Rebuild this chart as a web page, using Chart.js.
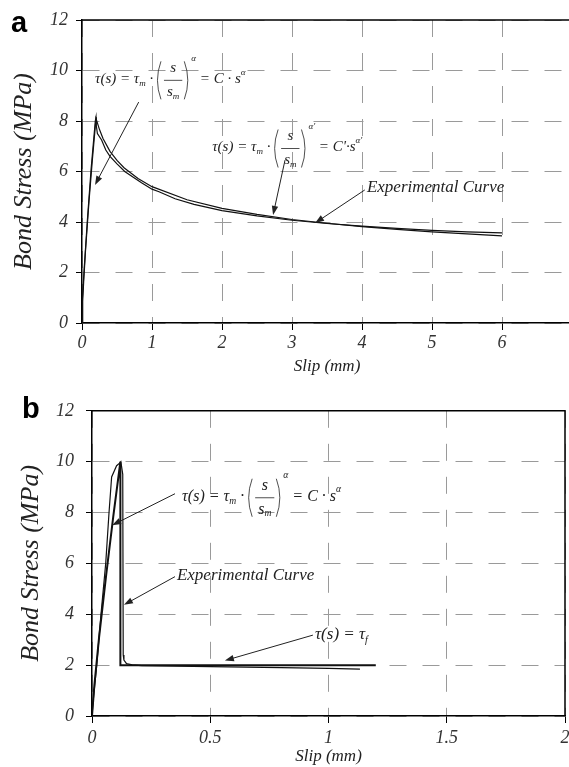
<!DOCTYPE html>
<html>
<head>
<meta charset="utf-8">
<script src="https://cdn.jsdelivr.net/npm/chart.js@4"></script>
<style>
html, body { margin: 0; padding: 0; background: #fff; overflow: hidden; width: 569px; height: 767px; }
canvas { position: absolute; left: 0; }
#chartA { top: 0; }
#chartB { top: 388px; }
.panel { position: absolute; font: bold 29px "Liberation Sans", Arial, sans-serif; color: #000; line-height: 32px; }
</style>
</head>
<body>
<canvas id="chartA" width="590" height="385"></canvas>
<canvas id="chartB" width="580" height="379"></canvas>
<div class="panel" style="left:11px; top:6px;">a</div>
<div class="panel" style="left:22px; top:392px;">b</div>
<script>
// panel a: slip (mm) / bond stress (MPa)
const expSlipA = [0, 0.004, 0.03, 0.075, 0.13, 0.19, 0.2, 0.205, 0.22, 0.28, 0.34, 0.4, 0.5, 0.61, 0.85, 1.0, 1.1, 1.33, 1.6, 2.0, 2.5, 3.0, 3.5, 4.0, 4.5, 5.0, 5.5, 6.0];
const expStressA = [0, 0.9, 2.1, 4.0, 6.1, 8.0, 8.15, 7.8, 7.5, 7.25, 6.85, 6.6, 6.3, 6.0, 5.55, 5.3, 5.2, 4.92, 4.7, 4.45, 4.24, 4.07, 3.94, 3.84, 3.75, 3.67, 3.61, 3.57];
const modelSlipA = [0, 0.01, 0.025, 0.05, 0.1, 0.15, 0.2, 0.25, 0.3, 0.4, 0.5, 0.6, 0.8, 1.0, 1.5, 2.0, 2.5, 3.0, 3.5, 4.0, 4.5, 5.0, 5.5, 6.0];
const modelStressA = [0, 0.86, 1.7, 2.86, 4.82, 6.53, 8.1, 7.66, 7.31, 6.8, 6.44, 6.15, 5.72, 5.4, 4.88, 4.54, 4.3, 4.1, 3.95, 3.82, 3.71, 3.61, 3.53, 3.45];

// panel b
const expSlipB = [0, 0.005, 0.02, 0.038, 0.058, 0.072, 0.083, 0.104, 0.118, 0.122, 0.13, 0.132, 0.135, 0.146, 0.17, 0.21, 0.5, 0.8, 1.0, 1.133];
const expStressB = [0, 0.6, 2.0, 4.0, 6.0, 8.0, 9.4, 9.84, 9.95, 10.0, 9.5, 2.4, 2.2, 2.06, 2.01, 1.98, 1.94, 1.9, 1.87, 1.84];
const modelSlipB = [0, 0.01, 0.03, 0.06, 0.09, 0.12, 0.12, 1.2];
const modelStressB = [0, 1.21, 3.1, 5.55, 7.85, 10.0, 2.0, 2.0];

// annotations, in data units: [fromX, fromY, toX, toY]
const arrowsA = [[0.81, 8.75, 0.186, 5.47], [2.9, 6.45, 2.73, 4.28], [4.04, 5.27, 3.33, 3.96]];
const labelsA = [
    { kind: 'power', x: 0.186, y: 9.65, size: 15 },
    { kind: 'powerPrime', x: 1.86, y: 6.95, size: 15 },
    { kind: 'text', text: 'Experimental Curve', x: 4.07, y: 5.35, size: 17 },
];
const arrowsB = [[0.351, 8.74, 0.085, 7.5], [0.351, 5.48, 0.135, 4.37], [0.934, 3.18, 0.562, 2.18]];
const labelsB = [
    { kind: 'power', x: 0.381, y: 8.62, size: 16 },
    { kind: 'text', text: 'Experimental Curve', x: 0.359, y: 5.52, size: 17 },
    { kind: 'friction', x: 0.943, y: 3.22, size: 17 },
];

const serif = '"Liberation Serif", "Times New Roman", serif';
const ital = s => `italic ${s}px ${serif}`;

function paren(ctx, x, y, h, open) {
    ctx.beginPath();
    if (open) {
        ctx.moveTo(x + 4, y - h);
        ctx.quadraticCurveTo(x - 3, y, x + 4, y + h);
    } else {
        ctx.moveTo(x, y - h);
        ctx.quadraticCurveTo(x + 7, y, x, y + h);
    }
    ctx.stroke();
}

function drawLabel(ctx, lab, px, py) {
    const size = lab.size;
    let cx = px;
    const put = (t, s, dy) => {
        ctx.font = ital(s);
        ctx.fillText(t, cx, py + dy);
        cx += ctx.measureText(t).width;
    };
    if (lab.kind === 'text') {
        put(lab.text, size, 0);
        return;
    }
    put('τ(s) = τ', size, 0);
    if (lab.kind === 'friction') {
        put('f', size * 0.6, size * 0.35);
        return;
    }
    const prime = lab.kind === 'powerPrime';
    put('m', size * 0.6, size * 0.3);
    put(' · ', size, 0);
    ctx.lineWidth = 0.8;
    const h = 19;
    paren(ctx, cx, py + 1, h, true);
    cx += 7;
    ctx.font = ital(size);
    const ws = ctx.measureText('s').width;
    ctx.font = ital(size * 0.6);
    const wm = ctx.measureText('m').width;
    const fw = ws + wm + 6;
    ctx.font = ital(size);
    ctx.fillText('s', cx + (fw - ws) / 2, py - 11);
    ctx.fillText('s', cx + 3, py + 13);
    ctx.font = ital(size * 0.6);
    ctx.fillText('m', cx + 3 + ws, py + 17);
    ctx.beginPath();
    ctx.moveTo(cx, py + 1);
    ctx.lineTo(cx + fw, py + 1);
    ctx.stroke();
    cx += fw + 2;
    paren(ctx, cx, py + 1, h, false);
    cx += 7;
    put(prime ? "α'" : 'α', size * 0.6, -21);
    put(prime ? " = C'·s" : ' = C · s', size, 0);
    put(prime ? "α'" : 'α', size * 0.6, -size * 0.45);
}

function drawArrow(ctx, x1, y1, x2, y2) {
    const a = Math.atan2(y2 - y1, x2 - x1);
    const L = 9, W = 3.2;
    ctx.lineWidth = 1;
    ctx.beginPath();
    ctx.moveTo(x1, y1);
    ctx.lineTo(x2 - L * 0.7 * Math.cos(a), y2 - L * 0.7 * Math.sin(a));
    ctx.stroke();
    ctx.beginPath();
    ctx.moveTo(x2, y2);
    ctx.lineTo(x2 - L * Math.cos(a) + W * Math.sin(a), y2 - L * Math.sin(a) - W * Math.cos(a));
    ctx.lineTo(x2 - L * Math.cos(a) - W * Math.sin(a), y2 - L * Math.sin(a) + W * Math.cos(a));
    ctx.closePath();
    ctx.fill();
}

const overlay = {
    id: 'overlay',
    afterDatasetsDraw(chart, args, opts) {
        const { ctx, chartArea: ca, scales: { x, y } } = chart;
        ctx.save();
        ctx.strokeStyle = '#000';
        ctx.lineWidth = 1.5;
        ctx.beginPath();
        ctx.moveTo(ca.left, ca.top);
        ctx.lineTo(ca.right, ca.top);
        if (opts.rightBorder) ctx.lineTo(ca.right, ca.bottom);
        ctx.stroke();
        ctx.fillStyle = '#222';
        ctx.strokeStyle = '#222';
        opts.arrows.forEach(ar => {
            drawArrow(ctx, x.getPixelForValue(ar[0]), y.getPixelForValue(ar[1]),
                x.getPixelForValue(ar[2]), y.getPixelForValue(ar[3]));
        });
        ctx.textBaseline = 'middle';
        ctx.textAlign = 'left';
        opts.labels.forEach(lab => {
            drawLabel(ctx, lab, x.getPixelForValue(lab.x), y.getPixelForValue(lab.y));
        });
        ctx.restore();
    }
};

function pts(xs, ys) {
    return xs.map((v, i) => ({ x: v, y: ys[i] }));
}

function makeChart(id, o) {
    return new Chart(document.getElementById(id), {
        type: 'line',
        data: {
            datasets: [
                { label: 'Experimental Curve', data: pts(o.expX, o.expY), borderColor: '#111', borderWidth: 1.2, pointRadius: 0, tension: 0 },
                { label: 'Model', data: pts(o.modX, o.modY), borderColor: '#111', borderWidth: o.modelWidth, pointRadius: 0, tension: 0 },
            ]
        },
        options: {
            responsive: false,
            animation: false,
            layout: { padding: { left: 0, top: o.padTop, right: o.padRight, bottom: 0 } },
            plugins: {
                legend: { display: false },
                tooltip: { enabled: false },
                overlay: { arrows: o.arrows, labels: o.labels, rightBorder: o.rightBorder },
            },
            scales: {
                x: {
                    type: 'linear',
                    min: 0,
                    max: o.xMax,
                    ticks: {
                        stepSize: o.xStep,
                        autoSkip: false,
                        maxRotation: 0,
                        padding: o.xTickPad,
                        color: '#333',
                        font: { family: serif, style: 'italic', size: 18 },
                        callback: v => (v > o.xLast ? '' : String(v)),
                    },
                    grid: { color: '#9a9a9a', lineWidth: 1, tickLength: 7, tickColor: '#000', tickWidth: 1 },
                    border: { color: '#000', width: 1.5, dash: [17, 16] },
                    title: { display: true, text: 'Slip (mm)', color: '#222', font: { family: serif, style: 'italic', size: 17 }, padding: { top: 0, bottom: o.xTitlePad } },
                    afterFit: s => { s.height = o.xHeight; },
                },
                y: {
                    min: 0,
                    max: 12,
                    ticks: {
                        stepSize: 2,
                        padding: o.yTickPad,
                        color: '#333',
                        font: { family: serif, style: 'italic', size: 18 },
                    },
                    grid: { color: '#9a9a9a', lineWidth: 1, tickLength: 6, tickColor: '#000', tickWidth: 1 },
                    border: { color: '#000', width: 1.5, dash: [17, 16] },
                    title: { display: true, text: 'Bond Stress (MPa)', color: '#222', font: { family: serif, style: 'italic', size: 26 }, padding: { top: o.yTitlePad, bottom: 0 } },
                    afterFit: s => { s.width = o.yWidth; },
                },
            },
        },
        plugins: [overlay],
    });
}

makeChart('chartA', {
    expX: expSlipA, expY: expStressA, modX: modelSlipA, modY: modelStressA, modelWidth: 1.2,
    arrows: arrowsA, labels: labelsA, rightBorder: false,
    xMax: 7, xStep: 1, xLast: 6, xTickPad: 2, xTitlePad: 8, xHeight: 62,
    yTickPad: 8, yTitlePad: 9, yWidth: 82,
    padTop: 20, padRight: 18,
});

makeChart('chartB', {
    expX: expSlipB, expY: expStressB, modX: modelSlipB, modY: modelStressB, modelWidth: 2,
    arrows: arrowsB, labels: labelsB, rightBorder: true,
    xMax: 2, xStep: 0.5, xLast: 2, xTickPad: 4, xTitlePad: 0, xHeight: 51,
    yTickPad: 12, yTitlePad: 16, yWidth: 92,
    padTop: 14, padRight: 15,
});
</script>
</body>
</html>
